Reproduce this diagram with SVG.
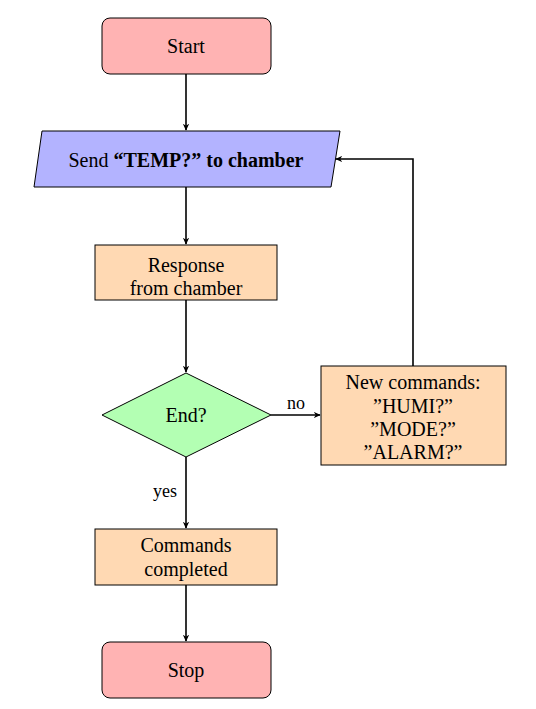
<svg xmlns="http://www.w3.org/2000/svg" width="536" height="709" viewBox="0 0 536 709">
<defs>
<marker id="ah" viewBox="0 0 10 10" refX="9" refY="5" markerWidth="7" markerHeight="7" markerUnits="userSpaceOnUse" orient="auto">
<path d="M0,0.5 L10,5 L0,9.5 L3,5 Z" fill="#000"/>
</marker>
<style>
text{font-family:"Liberation Serif","Times New Roman",serif;font-size:20px;fill:#000;text-anchor:middle;dominant-baseline:central}
.term{fill:#ffb3b3;stroke:#000;stroke-width:1}
.io{fill:#b3b3ff;stroke:#000;stroke-width:1}
.proc{fill:#ffd9b3;stroke:#000;stroke-width:1}
.dec{fill:#b3ffb3;stroke:#000;stroke-width:1}
.c{fill:none;stroke:#000;stroke-width:1.6;marker-end:url(#ah)}
.lbl{font-size:18px}
</style>
</defs>
<rect width="536" height="709" fill="#fff"/>
<g id="start"><rect class="term" x="102" y="18" width="169" height="56" rx="8"/><text x="186" y="46">Start</text></g>
<g id="send"><polygon class="io" points="42,131 340,131 331,187 34,187"/><text x="186" y="160">Send <tspan font-weight="bold">“TEMP?” to chamber</tspan></text></g>
<g id="response"><rect class="proc" x="95" y="245" width="182" height="55"/><text x="186" y="265">Response</text><text x="186" y="288">from chamber</text></g>
<g id="end"><polygon class="dec" points="186,373 271,415 186,457 102,415"/><text x="186" y="415">End?</text></g>
<g id="newcmd"><rect class="proc" x="321" y="366" width="185" height="99"/><text x="413" y="382">New commands:</text><text x="413" y="406">”HUMI?”</text><text x="413" y="429">”MODE?”</text><text x="413" y="452">”ALARM?”</text></g>
<g id="completed"><rect class="proc" x="95" y="529" width="182" height="56"/><text x="186" y="545">Commands</text><text x="186" y="569">completed</text></g>
<g id="stop"><rect class="term" x="102" y="642" width="169" height="56" rx="8"/><text x="186" y="670">Stop</text></g>
<g id="connectors">
<path class="c" d="M186,74 L186,130"/>
<path class="c" d="M186,187 L186,244"/>
<path class="c" d="M186,300 L186,372"/>
<path class="c" d="M271,415 L320,415"/>
<text class="lbl" x="296" y="403">no</text>
<path class="c" d="M413,366 L413,159 L336,159"/>
<path class="c" d="M186,457 L186,528"/>
<text class="lbl" x="165" y="491">yes</text>
<path class="c" d="M186,585 L186,641"/>
</g>
</svg>
